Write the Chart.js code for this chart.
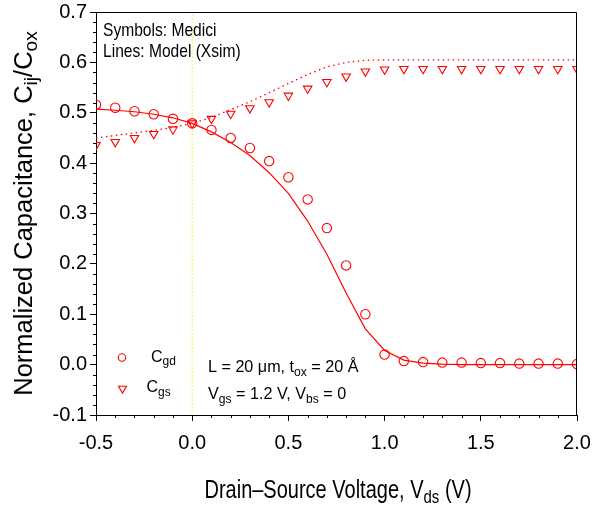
<!DOCTYPE html>
<html>
<head>
<meta charset="utf-8">
<title>Normalized capacitance vs Vds</title>
<script src="https://cdn.jsdelivr.net/npm/chart.js@4/dist/chart.umd.min.js"></script>
<style>
  html, body { margin: 0; padding: 0; background: #fff; }
  canvas { display: block; }
</style>
</head>
<body>
<canvas id="chart" width="592" height="508"></canvas>
<script>
// Drain-source voltage sweep (V)
const vds = [-0.5, -0.4, -0.3, -0.2, -0.1, 0.0, 0.1, 0.2, 0.3, 0.4, 0.5, 0.6, 0.7,
             0.8, 0.9, 1.0, 1.1, 1.2, 1.3, 1.4, 1.5, 1.6, 1.7, 1.8, 1.9, 2.0];

// Symbols: Medici
const cgdMedici = [0.516, 0.510, 0.503, 0.497, 0.488, 0.479, 0.466, 0.450, 0.430, 0.404, 0.372, 0.328, 0.271,
                   0.197, 0.100, 0.020, 0.007, 0.005, 0.004, 0.004, 0.003, 0.003, 0.002, 0.002, 0.002, 0.001];
const cgsMedici = [0.436, 0.442, 0.450, 0.458, 0.467, 0.479, 0.488, 0.498, 0.509, 0.521, 0.534, 0.548, 0.561,
                   0.572, 0.582, 0.586, 0.587, 0.587, 0.587, 0.587, 0.587, 0.587, 0.587, 0.587, 0.587, 0.587];

// Lines: Model (Xsim)
const cgdModel = [0.507, 0.505, 0.502, 0.497, 0.490, 0.479, 0.462, 0.441, 0.415, 0.381, 0.340, 0.285, 0.219,
                  0.142, 0.071, 0.028, 0.009, 0.003, 0.001, 0.000, 0.000, 0.000, 0.000, 0.000, 0.000, 0.000];
const cgsModel = [0.450, 0.455, 0.460, 0.465, 0.471, 0.479, 0.491, 0.506, 0.522, 0.540, 0.558, 0.576, 0.591,
                  0.600, 0.604, 0.605, 0.605, 0.605, 0.605, 0.605, 0.605, 0.605, 0.605, 0.605, 0.605, 0.605];

// vertical reference at Vds = 0
const zeroLineX = [0, 0];
const zeroLineY = [-0.1, 0.7];

// axis ticks
const xTicks = [-0.5, 0.0, 0.5, 1.0, 1.5, 2.0];
const yTicks = [-0.1, 0.0, 0.1, 0.2, 0.3, 0.4, 0.5, 0.6, 0.7];

const RED = "#ff0000";
const FONT = "'Liberation Sans', Arial, sans-serif";

function pts(xs, ys) {
  return xs.map((x, i) => ({ x: x, y: ys[i] }));
}

// draw text with subscripts: parts = [[text, isSub], ...]
function drawRich(ctx, parts, x, y, size, sx, align, subDrop) {
  const subSize = size * 0.75;
  let w = 0;
  parts.forEach(p => {
    ctx.font = (p[1] ? subSize : size) + "px " + FONT;
    w += ctx.measureText(p[0]).width;
  });
  ctx.save();
  ctx.translate(x, y);
  ctx.scale(sx, 1);
  ctx.fillStyle = "#000";
  ctx.textBaseline = "alphabetic";
  ctx.textAlign = "left";
  let cx = align === "center" ? -w / 2 : 0;
  parts.forEach(p => {
    ctx.font = (p[1] ? subSize : size) + "px " + FONT;
    ctx.fillText(p[0], cx, p[1] ? subDrop : 0);
    cx += ctx.measureText(p[0]).width;
  });
  ctx.restore();
}

const decorPlugin = {
  id: "decor",
  afterDraw(chart) {
    const ctx = chart.ctx;
    const a = chart.chartArea;
    const xs = chart.scales.x, ys = chart.scales.y;

    ctx.save();
    ctx.strokeStyle = "#000";
    ctx.lineWidth = 1;
    // top + right frame
    ctx.beginPath();
    ctx.moveTo(a.left, a.top + 0.5);
    ctx.lineTo(a.right - 0.5, a.top + 0.5);
    ctx.lineTo(a.right - 0.5, a.bottom);
    ctx.stroke();

    // minor ticks
    ctx.beginPath();
    for (let i = -5; i <= 35; i++) {
      if (i % 5 === 0) continue;
      const py = Math.round(ys.getPixelForValue(i / 50)) + 0.5;
      ctx.moveTo(a.left - 3, py);
      ctx.lineTo(a.left, py);
    }
    for (let i = -5; i <= 20; i++) {
      if (i % 5 === 0) continue;
      const px = Math.round(xs.getPixelForValue(i / 10)) + 0.5;
      ctx.moveTo(px, a.bottom);
      ctx.lineTo(px, a.bottom + 3);
    }
    ctx.stroke();
    ctx.restore();

    // notes in the plot
    drawRich(ctx, [["Symbols: Medici", false]], a.left + 7, a.top + 24, 19, 0.82, "left", 0);
    drawRich(ctx, [["Lines: Model (Xsim)", false]], a.left + 7, a.top + 45, 19, 0.82, "left", 0);

    drawRich(ctx, [["L = 20 \u03bcm, t", false], ["ox", true], [" = 20 \u00c5", false]],
      a.left + 112, a.top + 360, 17, 0.95, "left", 4);
    drawRich(ctx, [["V", false], ["gs", true], [" = 1.2 V, V", false], ["bs", true], [" = 0", false]],
      a.left + 112, a.top + 387, 17, 0.95, "left", 4);

    // legend
    const draw = Chart.helpers.drawPoint;
    ctx.save();
    ctx.strokeStyle = RED;
    ctx.fillStyle = "rgba(0,0,0,0)";
    ctx.lineWidth = 1.1;
    draw(ctx, { pointStyle: "circle", radius: 3.7, rotation: 0, borderWidth: 1.1 }, a.left + 26, a.top + 345.5);
    draw(ctx, { pointStyle: "triangle", radius: 4.6, rotation: 180, borderWidth: 1.1 }, a.left + 26.5, a.top + 376.5);
    ctx.restore();
    drawRich(ctx, [["C", false], ["gd", true]], a.left + 55, a.top + 350, 16, 1, "left", 2.6);
    drawRich(ctx, [["C", false], ["gs", true]], a.left + 50.5, a.top + 380, 16, 1, "left", 3.6);

    // axis titles
    drawRich(ctx, [["Drain\u2013Source Voltage, V", false], ["ds", true], [" (V)", false]],
      (a.left + a.right) / 2 + 1.5, 498, 25, 0.8, "center", 5);
    ctx.save();
    ctx.translate(31.5, (a.top + a.bottom) / 2);
    ctx.rotate(-Math.PI / 2);
    drawRich(ctx, [["Normalized Capacitance, C", false], ["ij", true], ["/C", false], ["ox", true]],
      0, 0, 25.5, 1, "center", 5);
    ctx.restore();
  }
};

new Chart(document.getElementById("chart"), {
  type: "scatter",
  data: {
    datasets: [
      {
        label: "Cgd Medici",
        data: pts(vds, cgdMedici),
        showLine: false,
        pointStyle: "circle",
        pointRadius: 4.7,
        pointBorderWidth: 1.1,
        pointBorderColor: RED,
        pointBackgroundColor: "rgba(0,0,0,0)"
      },
      {
        label: "Cgs Medici",
        data: pts(vds, cgsMedici),
        showLine: false,
        pointStyle: "triangle",
        pointRotation: 180,
        pointRadius: 4.9,
        pointBorderWidth: 1.1,
        pointBorderColor: RED,
        pointBackgroundColor: "rgba(0,0,0,0)"
      },
      {
        label: "Cgd Model",
        data: pts(vds, cgdModel),
        showLine: true,
        borderColor: RED,
        borderWidth: 1.2,
        pointRadius: 0,
        tension: 0
      },
      {
        label: "Cgs Model",
        data: pts(vds, cgsModel),
        showLine: true,
        borderColor: RED,
        borderWidth: 1.3,
        borderDash: [1.5, 3.5],
        pointRadius: 0,
        tension: 0
      },
      {
        label: "Vds = 0",
        data: pts(zeroLineX, zeroLineY),
        showLine: true,
        borderColor: "#f5f000",
        borderWidth: 1,
        borderDash: [1.5, 2],
        pointRadius: 0
      }
    ]
  },
  options: {
    responsive: false,
    animation: false,
    devicePixelRatio: 1,
    layout: { padding: { top: 12, right: 15, left: 0, bottom: 0 } },
    plugins: {
      legend: { display: false },
      tooltip: { enabled: false },
      title: { display: false }
    },
    scales: {
      x: {
        type: "linear",
        min: -0.5,
        max: 2.0,
        afterBuildTicks: s => { s.ticks = xTicks.map(v => ({ value: v })); },
        afterFit: s => { s.height = 93; s.paddingLeft = 0; s.paddingRight = 0; },
        grid: { drawOnChartArea: false, drawTicks: true, tickLength: 6, color: "#000", tickColor: "#000" },
        border: { display: true, color: "#000", width: 1 },
        ticks: {
          color: "#000",
          font: { family: FONT, size: 20 },
          padding: 10,
          maxRotation: 0,
          callback: v => v.toFixed(1)
        }
      },
      y: {
        type: "linear",
        min: -0.1,
        max: 0.7,
        afterBuildTicks: s => { s.ticks = yTicks.map(v => ({ value: v })); },
        afterFit: s => { s.width = 96; s.paddingTop = 0; s.paddingBottom = 0; },
        grid: { drawOnChartArea: false, drawTicks: true, tickLength: 6, color: "#000", tickColor: "#000" },
        border: { display: true, color: "#000", width: 1 },
        ticks: {
          color: "#000",
          font: { family: FONT, size: 20 },
          padding: 3,
          callback: v => v.toFixed(1)
        }
      }
    }
  },
  plugins: [decorPlugin]
});
</script>
</body>
</html>
